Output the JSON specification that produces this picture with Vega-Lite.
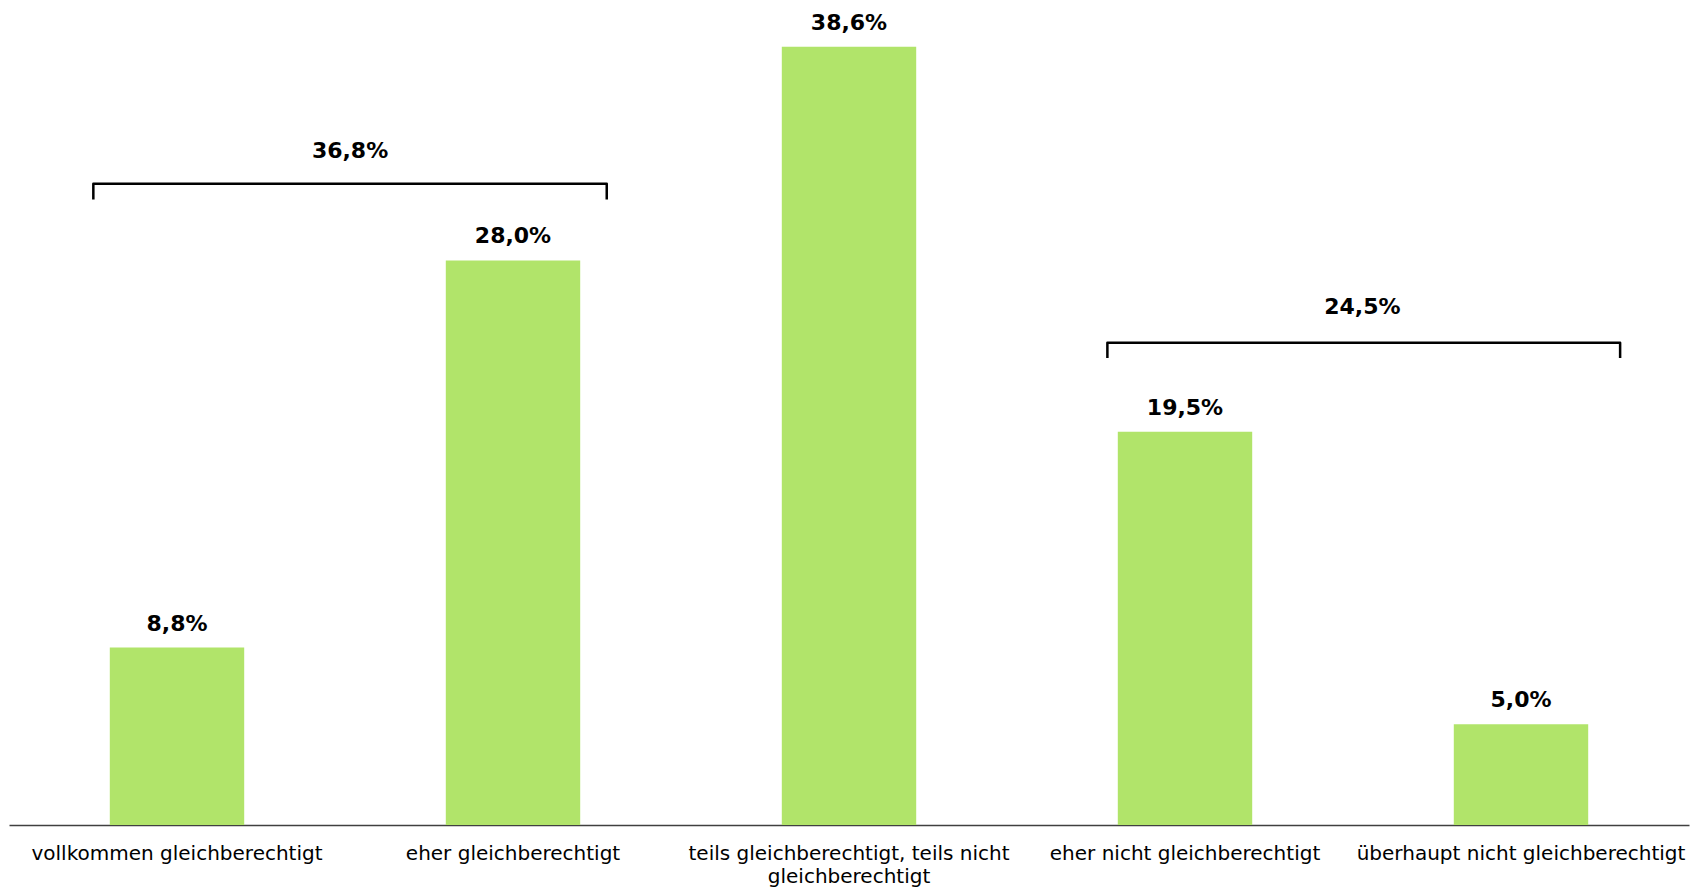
{
  "$schema": "https://vega.github.io/schema/vega-lite/v6.json",
  "width": 1680,
  "height": 825,
  "autosize": {"type": "none"},
  "padding": {"left": 9, "top": 0, "right": 12, "bottom": 63},
  "background": "white",
  "config": {"view": {"stroke": null}, "font": "DejaVu Sans"},
  "datasets": {
    "bars": [
      {"kategorie": "vollkommen gleichberechtigt", "anteil": 8.8, "label": "8,8%"},
      {"kategorie": "eher gleichberechtigt", "anteil": 28.0, "label": "28,0%"},
      {"kategorie": "teils gleichberechtigt, teils nicht gleichberechtigt", "anteil": 38.6, "label": "38,6%"},
      {"kategorie": "eher nicht gleichberechtigt", "anteil": 19.5, "label": "19,5%"},
      {"kategorie": "überhaupt nicht gleichberechtigt", "anteil": 5.0, "label": "5,0%"}
    ],
    "brackets": [
      {"gruppe": "a", "x": 0.251, "y": 31.03, "reihe": 1},
      {"gruppe": "a", "x": 0.251, "y": 31.8, "reihe": 2},
      {"gruppe": "a", "x": 1.779, "y": 31.8, "reihe": 3},
      {"gruppe": "a", "x": 1.779, "y": 31.03, "reihe": 4},
      {"gruppe": "b", "x": 3.269, "y": 23.16, "reihe": 1},
      {"gruppe": "b", "x": 3.269, "y": 23.92, "reihe": 2},
      {"gruppe": "b", "x": 4.795, "y": 23.92, "reihe": 3},
      {"gruppe": "b", "x": 4.795, "y": 23.16, "reihe": 4}
    ],
    "summen": [
      {"x": 1.015, "y": 33.43, "label": "36,8%"},
      {"x": 4.028, "y": 25.69, "label": "24,5%"}
    ]
  },
  "layer": [
    {
      "data": {"name": "bars"},
      "encoding": {
        "x": {
          "field": "kategorie",
          "type": "nominal",
          "sort": null,
          "scale": {"paddingInner": 0.6, "paddingOuter": 0.3},
          "axis": {
            "title": null,
            "ticks": false,
            "labelAngle": 0,
            "labelFontSize": 20,
            "labelColor": "#000000",
            "labelPadding": 18,
            "labelLimit": 0,
            "labelLineHeight": 23,
            "domainColor": "#404040",
            "domainWidth": 1.5,
            "labelExpr": "datum.label == 'teils gleichberechtigt, teils nicht gleichberechtigt' ? ['teils gleichberechtigt, teils nicht', 'gleichberechtigt'] : datum.label"
          }
        },
        "y": {
          "field": "anteil",
          "type": "quantitative",
          "scale": {"domain": [0, 40.92], "nice": false, "zero": true},
          "axis": null
        }
      },
      "layer": [
        {"mark": {"type": "bar", "color": "#b1e46a"}},
        {
          "mark": {"type": "text", "fontSize": 22, "fontWeight": "bold", "color": "#000000", "baseline": "alphabetic", "dy": -17},
          "encoding": {"text": {"field": "label"}}
        }
      ]
    },
    {
      "data": {"name": "brackets"},
      "mark": {"type": "line", "color": "#000000", "strokeWidth": 2.5, "strokeJoin": "round"},
      "encoding": {
        "x": {"field": "x", "type": "quantitative", "scale": {"domain": [0, 5], "nice": false, "zero": false}, "axis": null},
        "y": {"field": "y", "type": "quantitative", "scale": {"domain": [0, 40.92], "nice": false, "zero": true}, "axis": null},
        "detail": {"field": "gruppe"},
        "order": {"field": "reihe"}
      }
    },
    {
      "data": {"name": "summen"},
      "mark": {"type": "text", "fontSize": 22, "fontWeight": "bold", "color": "#000000", "baseline": "middle"},
      "encoding": {
        "x": {"field": "x", "type": "quantitative", "scale": {"domain": [0, 5], "nice": false, "zero": false}, "axis": null},
        "y": {"field": "y", "type": "quantitative", "scale": {"domain": [0, 40.92], "nice": false, "zero": true}, "axis": null},
        "text": {"field": "label"}
      }
    }
  ],
  "resolve": {"scale": {"x": "independent"}}
}
